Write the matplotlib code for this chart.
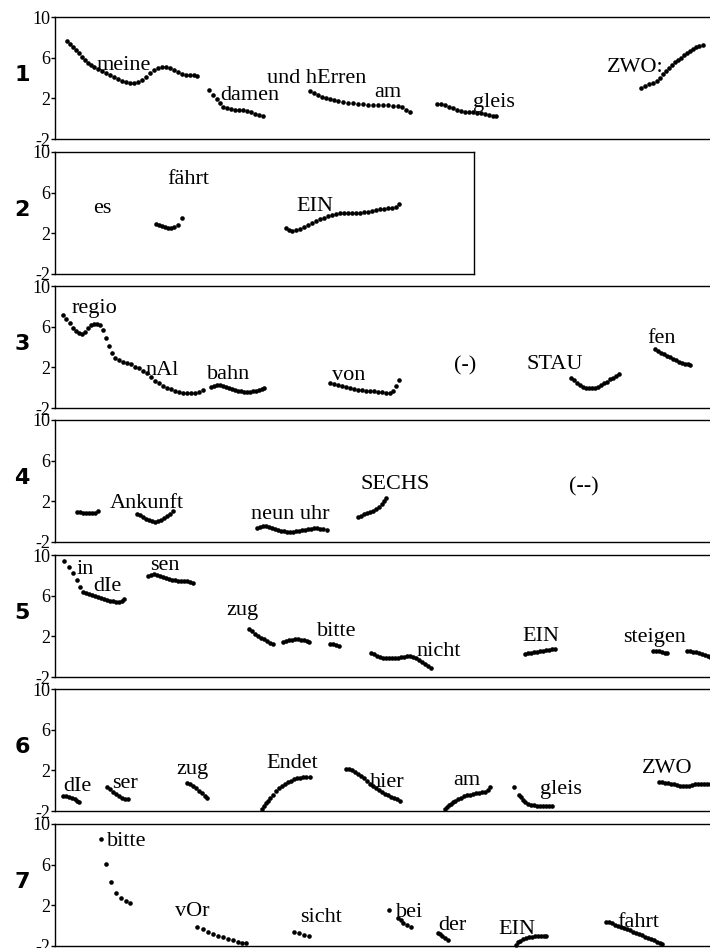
import matplotlib
matplotlib.use("Agg")
import matplotlib.pyplot as plt
from matplotlib import transforms

plt.rcParams['axes.unicode_minus'] = False

# time in frames along each utterance, pitch in semitones
# one list per word contour, seven utterances

p1_t = [
    [12, 15, 18, 21, 24, 27, 30, 33, 36, 39, 43, 47, 51, 55, 59, 63, 67, 71, 75, 79,
     83, 87, 91, 95, 99, 103, 107, 111, 115, 119, 123, 127, 131, 135, 139, 142],
    [154, 158, 162, 165, 168, 172, 176, 180, 184, 188, 192, 196, 200, 204, 208],
    [255, 259, 263, 267, 271, 275, 279, 283, 288, 293, 298, 303, 308, 313, 318, 323,
     328, 333, 338, 343, 347, 351, 355],
    [382, 386, 390, 394, 398, 402, 406, 410, 414, 418, 422, 426, 430, 434, 438, 441],
    [586, 590, 594, 598, 602, 605, 608, 611, 614, 617, 620, 623, 626, 629, 632, 635,
     638, 641, 644, 648],
]
p1_f = [
    [7.6, 7.3, 7.0, 6.8, 6.5, 6.1, 5.8, 5.5, 5.3, 5.1, 4.9, 4.7, 4.5, 4.3, 4.1, 3.9,
     3.7, 3.6, 3.5, 3.5, 3.6, 3.8, 4.1, 4.5, 4.8, 5.0, 5.1, 5.1, 5.0, 4.8, 4.6, 4.4,
     4.3, 4.3, 4.3, 4.2],
    [2.8, 2.3, 1.9, 1.5, 1.15, 1.0, 0.95, 0.9, 0.85, 0.85, 0.75, 0.65, 0.5, 0.4, 0.25],
    [2.7, 2.5, 2.3, 2.1, 2.0, 1.9, 1.8, 1.7, 1.65, 1.55, 1.5, 1.45, 1.4, 1.35, 1.35,
     1.3, 1.3, 1.3, 1.25, 1.2, 1.1, 0.9, 0.7],
    [1.4, 1.4, 1.3, 1.1, 1.0, 0.9, 0.8, 0.7, 0.7, 0.7, 0.6, 0.6, 0.5, 0.4, 0.3, 0.3],
    [3.0, 3.2, 3.4, 3.5, 3.7, 4.0, 4.4, 4.7, 5.0, 5.3, 5.6, 5.8, 6.0, 6.3, 6.5, 6.7,
     6.9, 7.0, 7.1, 7.2],
]
p1_words = ["meine", "damen", "und hErren", "am", "gleis", "ZWO:"]
p1_word_t = [42, 165, 212, 319, 418, 552]
p1_word_f = [4.8, 1.85, 3.5, 2.1, 1.15, 4.6]

p2_t = [
    [101, 104, 107, 110, 113, 116, 119, 123, 127],
    [231, 234, 237, 241, 245, 249, 253, 257, 261, 265, 269, 273, 277, 281, 285, 289,
     293, 297, 301, 305, 309, 313, 317, 321, 325, 329, 333, 337, 341, 344],
]
p2_f = [
    [2.9, 2.8, 2.7, 2.6, 2.5, 2.5, 2.6, 2.8, 3.5],
    [2.5, 2.3, 2.2, 2.3, 2.4, 2.6, 2.8, 3.0, 3.2, 3.4, 3.5, 3.7, 3.8, 3.9, 4.0, 4.0,
     4.0, 4.0, 4.0, 4.0, 4.1, 4.1, 4.2, 4.3, 4.4, 4.4, 4.5, 4.5, 4.6, 4.9],
]
p2_words = ["es", "fährt", "EIN"]
p2_word_t = [38, 112, 241]
p2_word_f = [4.0, 6.85, 4.2]

p3_t = [
    [8, 11, 15, 18, 21, 24, 27, 30, 33, 36, 39, 42, 45, 48, 51, 54, 57, 60, 64, 68,
     72, 76, 80, 84, 88, 92, 96, 100, 104, 108, 112, 116, 120, 124, 128, 132, 136,
     140, 144, 148],
    [156, 159, 162, 165, 168, 171, 174, 177, 180, 183, 186, 189, 192, 195, 198, 201,
     204, 207, 209],
    [275, 279, 283, 287, 291, 295, 299, 303, 307, 311, 315, 319, 323, 327, 331, 335,
     338, 341, 344],
    [516, 519, 522, 525, 528, 531, 534, 537, 540, 543, 546, 549, 552, 555, 558, 561, 564],
    [600, 603, 606, 609, 612, 615, 618, 621, 624, 627, 630, 633, 635],
]
p3_f = [
    [7.1, 6.8, 6.4, 5.9, 5.6, 5.4, 5.3, 5.5, 5.9, 6.2, 6.3, 6.3, 6.2, 5.7, 4.9, 4.1,
     3.4, 2.9, 2.75, 2.55, 2.4, 2.3, 2.05, 1.9, 1.65, 1.4, 1.05, 0.7, 0.45, 0.2, 0.0,
     -0.15, -0.3, -0.4, -0.5, -0.55, -0.55, -0.55, -0.45, -0.25],
    [0.1, 0.2, 0.25, 0.25, 0.2, 0.1, 0.0, -0.1, -0.2, -0.3, -0.35, -0.4, -0.4, -0.4,
     -0.35, -0.3, -0.2, -0.1, -0.05],
    [0.45, 0.4, 0.3, 0.2, 0.05, -0.05, -0.15, -0.2, -0.25, -0.3, -0.35, -0.35, -0.4,
     -0.45, -0.55, -0.55, -0.3, 0.2, 0.75],
    [1.0, 0.8, 0.5, 0.3, 0.1, 0.0, -0.05, -0.05, 0.0, 0.1, 0.3, 0.45, 0.6, 0.85, 1.0,
     1.15, 1.3],
    [3.8, 3.6, 3.45, 3.3, 3.15, 3.0, 2.85, 2.7, 2.55, 2.45, 2.35, 2.3, 2.25],
]
p3_words = ["regio", "nAl", "bahn", "von", "(-)", "STAU", "fen"]
p3_word_t = [17, 90, 152, 277, 399, 471, 592]
p3_word_f = [7.3, 1.25, 0.9, 0.8, 1.7, 1.8, 4.4]

p4_t = [
    [22, 25, 28, 31, 34, 37, 40, 43],
    [82, 85, 88, 91, 94, 97, 100, 103, 106, 109, 112, 115, 118],
    [202, 205, 208, 211, 214, 217, 220, 223, 226, 229, 232, 235, 238, 241, 244, 247,
     250, 253, 256, 259, 262, 265, 268, 272],
    [303, 306, 309, 312, 315, 318, 321, 324, 327, 329, 331],
]
p4_f = [
    [1.0, 0.95, 0.9, 0.85, 0.85, 0.85, 0.9, 1.05],
    [0.8, 0.65, 0.45, 0.3, 0.15, 0.05, 0.0, 0.05, 0.2, 0.4, 0.6, 0.8, 1.05],
    [-0.6, -0.5, -0.45, -0.45, -0.5, -0.6, -0.7, -0.8, -0.9, -0.95, -1.0, -1.0, -1.0,
     -0.95, -0.9, -0.85, -0.8, -0.75, -0.7, -0.65, -0.65, -0.7, -0.75, -0.8],
    [0.45, 0.6, 0.75, 0.85, 0.95, 1.05, 1.2, 1.4, 1.7, 2.0, 2.3],
]
p4_words = ["Ankunft", "neun uhr", "SECHS", "(--)"]
p4_word_t = [55, 196, 305, 514]
p4_word_f = [1.3, 0.25, 3.2, 3.0]

p5_t = [
    [9, 14, 18, 22, 25, 28, 31, 34, 37, 40, 43, 46, 49, 52, 55, 58, 61, 64, 67, 69],
    [93, 96, 99, 102, 105, 108, 111, 114, 117, 120, 123, 126, 129, 132, 135, 138],
    [194, 197, 200, 203, 206, 209, 212, 215, 218],
    [228, 231, 234, 237, 240, 243, 246, 249, 252, 254],
    [275, 278, 281, 284],
    [316, 319, 322, 325, 328, 331, 334, 337, 340, 343, 346, 349, 352, 355, 358, 361,
     364, 367, 370, 373, 376],
    [470, 473, 476, 479, 482, 485, 488, 491, 494, 497, 500],
    [598, 601, 604, 607, 610, 612],
    [632, 635, 638, 641, 644, 647, 650, 653, 655],
]
p5_f = [
    [9.4, 8.85, 8.2, 7.55, 6.9, 6.4, 6.25, 6.15, 6.05, 5.95, 5.85, 5.75, 5.7, 5.6,
     5.5, 5.45, 5.4, 5.4, 5.5, 5.65],
    [7.95, 8.05, 8.1, 8.05, 7.95, 7.85, 7.75, 7.65, 7.55, 7.5, 7.45, 7.45, 7.45, 7.4,
     7.35, 7.2],
    [2.7, 2.5, 2.25, 2.05, 1.85, 1.7, 1.5, 1.35, 1.25],
    [1.4, 1.5, 1.6, 1.65, 1.7, 1.7, 1.65, 1.6, 1.5, 1.4],
    [1.25, 1.2, 1.1, 1.05],
    [0.35, 0.25, 0.1, 0.0, -0.1, -0.15, -0.15, -0.15, -0.15, -0.1, -0.05, 0.0, 0.05,
     0.05, 0.0, -0.15, -0.3, -0.5, -0.7, -0.9, -1.1],
    [0.25, 0.35, 0.4, 0.45, 0.5, 0.55, 0.6, 0.65, 0.7, 0.75, 0.75],
    [0.6, 0.55, 0.55, 0.5, 0.4, 0.35],
    [0.55, 0.55, 0.5, 0.45, 0.35, 0.25, 0.15, 0.05, 0.0],
]
p5_words = ["in", "dIe", "sen", "zug", "bitte", "nicht", "EIN", "steigen"]
p5_word_t = [22, 38, 95, 171, 262, 361, 467, 568]
p5_word_f = [8.1, 6.5, 8.5, 4.1, 2.05, 0.1, 1.55, 1.45]

p6_t = [
    [8, 11, 14, 17, 20, 22, 24],
    [52, 55, 58, 61, 64, 67, 70, 73],
    [132, 135, 138, 141, 144, 147, 150, 152],
    [207, 209, 211, 213, 215, 218, 221, 224, 227, 230, 233, 236, 239, 242, 245, 248,
     251, 255],
    [291, 294, 297, 300, 303, 306, 309, 312, 315, 318, 321, 324, 327, 330, 333, 336,
     339, 342, 345],
    [390, 392, 394, 396, 398, 400, 403, 406, 409, 412, 415, 418, 421, 424, 427, 430,
     433, 435],
    [459, 464, 466, 468, 470, 473, 476, 479, 482, 485, 488, 491, 494, 497],
    [604, 607, 610, 613, 616, 619, 622, 625, 628, 631, 634, 637, 640, 643, 646, 649,
     652, 655],
]
p6_f = [
    [-0.5, -0.55, -0.65, -0.75, -0.85, -1.0, -1.1],
    [0.35, 0.15, -0.1, -0.35, -0.55, -0.7, -0.8, -0.85],
    [0.8, 0.65, 0.45, 0.25, 0.0, -0.25, -0.5, -0.75],
    [-1.85, -1.5, -1.25, -1.0, -0.7, -0.4, -0.05, 0.25, 0.5, 0.7, 0.85, 1.0, 1.1, 1.2,
     1.25, 1.3, 1.3, 1.3],
    [2.1, 2.1, 2.0, 1.8, 1.6, 1.4, 1.2, 0.95, 0.7, 0.45, 0.25, 0.05, -0.1, -0.3, -0.45,
     -0.6, -0.75, -0.85, -1.0],
    [-1.85, -1.65, -1.45, -1.3, -1.15, -1.0, -0.85, -0.7, -0.55, -0.45, -0.4, -0.3,
     -0.25, -0.2, -0.15, -0.1, 0.1, 0.35],
    [0.35, -0.4, -0.65, -0.9, -1.1, -1.3, -1.4, -1.45, -1.5, -1.5, -1.5, -1.5, -1.5, -1.5],
    [0.9, 0.85, 0.8, 0.75, 0.7, 0.65, 0.55, 0.5, 0.45, 0.45, 0.5, 0.55, 0.65, 0.7, 0.7,
     0.7, 0.7, 0.65],
]
p6_words = ["dIe", "ser", "zug", "Endet", "hier", "am", "gleis", "ZWO"]
p6_word_t = [8, 57, 121, 211, 315, 398, 485, 587]
p6_word_f = [0.0, 0.25, 1.6, 2.2, 0.35, 0.55, -0.35, 1.75]

p7_t = [
    [46, 51, 56, 61, 66, 71, 75],
    [142, 148, 153, 158, 163, 168, 173, 178, 183, 187, 191],
    [239, 244, 249, 254],
    [334, 343, 346, 348, 352, 356],
    [383, 385, 387, 390, 393],
    [461, 463, 465, 468, 471, 474, 477, 480, 483, 486, 489, 491],
    [551, 554, 557, 560, 563, 566, 569, 572, 575, 578, 581, 584, 587, 590, 593, 596,
     599, 602, 605, 607],
]
p7_f = [
    [8.5, 6.1, 4.3, 3.25, 2.7, 2.45, 2.2],
    [-0.1, -0.35, -0.6, -0.8, -1.0, -1.15, -1.3, -1.45, -1.6, -1.7, -1.75],
    [-0.6, -0.75, -0.9, -1.0],
    [1.55, 0.8, 0.55, 0.3, 0.05, -0.1],
    [-0.7, -0.85, -1.0, -1.2, -1.4],
    [-1.9, -1.65, -1.5, -1.35, -1.25, -1.15, -1.1, -1.05, -1.0, -1.0, -1.0, -1.0],
    [0.4, 0.35, 0.25, 0.1, 0.0, -0.1, -0.25, -0.35, -0.45, -0.6, -0.75, -0.85, -0.95,
     -1.1, -1.2, -1.35, -1.45, -1.6, -1.7, -1.85],
]
p7_words = ["bitte", "vOr", "sicht", "bei", "der", "EIN", "fahrt"]
p7_word_t = [52, 120, 245, 341, 383, 443, 562]
p7_word_f = [7.85, 0.95, 0.4, 0.9, -0.45, -0.8, -0.1]

yticks = [-2, 2, 6, 10]

panels = [
    (p1_t, p1_f, p1_words, p1_word_t, p1_word_f),
    (p2_t, p2_f, p2_words, p2_word_t, p2_word_f),
    (p3_t, p3_f, p3_words, p3_word_t, p3_word_f),
    (p4_t, p4_f, p4_words, p4_word_t, p4_word_f),
    (p5_t, p5_f, p5_words, p5_word_t, p5_word_f),
    (p6_t, p6_f, p6_words, p6_word_t, p6_word_f),
    (p7_t, p7_f, p7_words, p7_word_t, p7_word_f),
]

W, H = 710, 948
fig = plt.figure(figsize=(W / 100, H / 100), dpi=100)

tops = [17, 152, 286, 420, 555, 689, 824]   # pixel row of each panel's top edge
panel_h = 122
serif = ['Liberation Serif', 'DejaVu Serif']

for i, (ts, fs, words, wt, wf) in enumerate(panels):
    width = 419 if i == 1 else 655
    ax = fig.add_axes([55 / W, 1 - (tops[i] + panel_h) / H, width / W, panel_h / H])
    for t, f in zip(ts, fs):
        ax.plot(t, f, 'o', ms=3.3, color='black', mec='none', clip_on=False)
    for w, x, y in zip(words, wt, wf):
        ax.text(x, y, w, ha='left', va='baseline', fontsize=16, family=serif)

    ax.set_xlim(0, width)
    ax.set_ylim(-2, 10)
    ax.set_xticks([])
    ax.set_yticks(yticks)
    ax.set_yticklabels([str(v) for v in yticks], family=serif, fontsize=13)
    ax.tick_params(axis='y', length=3, width=1, pad=0.5)
    ax.spines['right'].set_visible(i == 1)
    for s in ax.spines.values():
        s.set_linewidth(1.0)

    # bold row number on the left margin
    trans = transforms.blended_transform_factory(fig.transFigure, ax.transData)
    ax.text(22 / W, 3.7, str(i + 1), transform=trans, ha='center', va='baseline',
            fontsize=16, fontweight='bold', family='DejaVu Sans')

fig.savefig('out.png', dpi=100)
